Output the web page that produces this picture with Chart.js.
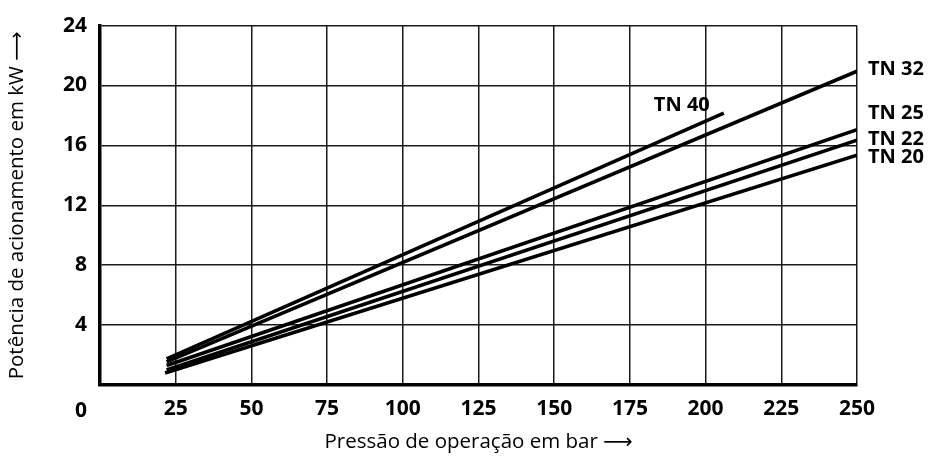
<!DOCTYPE html>
<html>
<head>
<meta charset="utf-8">
<script src="https://cdn.jsdelivr.net/npm/chart.js@4.4.1/dist/chart.umd.min.js"></script>
<style>
  html, body { margin: 0; padding: 0; background: #fff; }
  #wrap { width: 932px; height: 458px; }
</style>
</head>
<body>
<div id="wrap"><canvas id="c" width="932" height="458"></canvas></div>
<script>
// ---- data ----
const seriesNames = ["TN 40", "TN 32", "TN 25", "TN 22", "TN 20"];
const tn40 = [{x: 22, y: 1.75}, {x: 206, y: 18.15}];
const tn32 = [{x: 22, y: 1.55}, {x: 250, y: 20.95}];
const tn25 = [{x: 22, y: 1.3}, {x: 250, y: 17.05}];
const tn22 = [{x: 22, y: 1.0}, {x: 250, y: 16.35}];
const tn20 = [{x: 21.5, y: 0.8}, {x: 250, y: 15.35}];
const xTicks = [0, 25, 50, 75, 100, 125, 150, 175, 200, 225, 250];
const yTicks = [0, 4, 8, 12, 16, 20, 24];
const xTitle = "Pressão de operação em bar \u27F6";
const yTitle = "Potência de acionamento em kW \u27F6";

// label placement (style only): offsets from each series' last point
const labelStyle = [
  {align: 'right', dx: -14, dy: -8},
  {align: 'left', dx: 11, dy: -2},
  {align: 'left', dx: 11, dy: -16},
  {align: 'left', dx: 11, dy: -0.5},
  {align: 'left', dx: 11, dy: 2}
];

const allSeries = [tn40, tn32, tn25, tn22, tn20];

const tickFont = {family: '"Open Sans", "DejaVu Sans"', size: 21, weight: 'bold'};
const titleFont = {family: '"Open Sans", "DejaVu Sans"', size: 20.5, weight: 'normal'};

const labelPlugin = {
  id: 'seriesLabels',
  afterDatasetsDraw(chart) {
    const ctx = chart.ctx;
    const xs = chart.scales.x, ys = chart.scales.y;
    ctx.save();
    ctx.fillStyle = '#000';
    ctx.font = 'bold 20px "Open Sans"';
    ctx.textBaseline = 'middle';
    allSeries.forEach((s, i) => {
      const p = s[s.length - 1];
      const st = labelStyle[i];
      ctx.textAlign = st.align;
      ctx.fillText(seriesNames[i], xs.getPixelForValue(p.x) + st.dx, ys.getPixelForValue(p.y) + st.dy);
    });
    // origin "0" label, placed like a y tick label on the x tick row
    ctx.font = 'bold 21px "Open Sans"';
    ctx.textAlign = 'right';
    ctx.textBaseline = 'middle';
    ctx.fillText(String(xTicks[0]), chart.chartArea.left - 13, chart.chartArea.bottom + 26);
    ctx.restore();
  }
};

new Chart(document.getElementById('c'), {
  type: 'line',
  data: {
    datasets: allSeries.map((s, i) => ({
      label: seriesNames[i],
      data: s,
      borderColor: '#000',
      borderWidth: 3.6,
      pointRadius: 0,
      fill: false,
      tension: 0,
      borderCapStyle: 'butt'
    }))
  },
  options: {
    responsive: false,
    animation: false,
    events: [],
    layout: {padding: {top: 24, right: 75, left: 0, bottom: 0}},
    plugins: {legend: {display: false}, tooltip: {enabled: false}},
    scales: {
      x: {
        type: 'linear',
        min: 0, max: 250,
        afterBuildTicks(scale) { scale.ticks = xTicks.map(v => ({value: v})); },
        afterFit(scale) { scale.height = 73; },
        ticks: {
          color: '#000', font: tickFont, padding: 11, maxRotation: 0, autoSkip: false,
          callback: (v) => (v === xTicks[0] ? '' : String(v))
        },
        grid: {color: '#1a1a1a', lineWidth: 1.5, drawTicks: false},
        border: {color: '#000', width: 3.5},
        title: {display: true, text: xTitle, color: '#000', font: titleFont, padding: {top: 0, bottom: 4}}
      },
      y: {
        type: 'linear',
        min: 0, max: 24,
        afterBuildTicks(scale) { scale.ticks = yTicks.map(v => ({value: v})); },
        afterFit(scale) { scale.width = 100; },
        ticks: {
          color: '#000', font: tickFont, padding: 13, autoSkip: false,
          callback: (v) => (v === yTicks[0] ? '' : String(v))
        },
        grid: {color: '#1a1a1a', lineWidth: 1.5, drawTicks: false},
        border: {color: '#000', width: 3.5},
        title: {display: true, text: yTitle, color: '#000', font: titleFont, padding: {top: 5, bottom: 0}}
      }
    }
  },
  plugins: [labelPlugin]
});
</script>
</body>
</html>
